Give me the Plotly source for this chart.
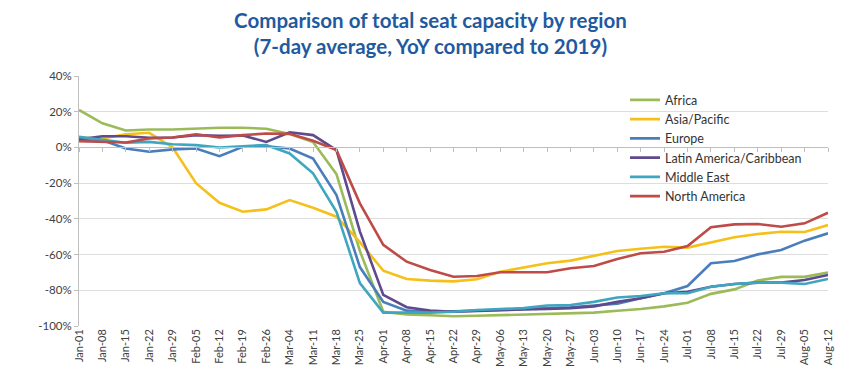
import plotly.graph_objects as go

dates = ["Jan-01", "Jan-08", "Jan-15", "Jan-22", "Jan-29", "Feb-05", "Feb-12", "Feb-19", "Feb-26",
         "Mar-04", "Mar-11", "Mar-18", "Mar-25", "Apr-01", "Apr-08", "Apr-15", "Apr-22", "Apr-29",
         "May-06", "May-13", "May-20", "May-27", "Jun-03", "Jun-10", "Jun-17", "Jun-24",
         "Jul-01", "Jul-08", "Jul-15", "Jul-22", "Jul-29", "Aug-05", "Aug-12"]

africa = [21, 13.5, 9.5, 10, 10, 10.5, 11, 11, 10.5, 7.5, 3, -15, -58, -92, -93.5, -94, -94.5,
          -94.3, -94, -93.8, -93.5, -93, -92.5, -91.5, -90.5, -89, -87, -82, -79.5, -74.5,
          -72.5, -72.5, -70]
asia_pacific = [5.5, 5, 7.4, 8.2, 0, -20, -31, -36, -34.7, -29.5, -33.8, -38.8, -53, -69, -73.7,
                -74.6, -75, -73.8, -69.6, -67.1, -64.9, -63.4, -60.8, -58, -56.7, -55.6, -56.1,
                -53.3, -50.3, -48.5, -47.2, -47.4, -43.5]
europe = [4.5, 4, -0.6, -2.4, -1.1, -0.6, -4.9, 0.4, 0.7, -0.6, -6.2, -26.7, -67, -86.5, -91.4,
          -92, -91.8, -91.5, -91, -90.5, -90, -89.5, -88.5, -87.5, -84.5, -81.7, -77.6, -64.9,
          -63.6, -59.9, -57.4, -52.2, -48.1]
latin_america = [4.6, 6.3, 6.3, 5.4, 5.6, 6.9, 6.5, 6.7, 3.1, 8.5, 6.9, -1.5, -47, -82.6, -89.5,
                 -91.4, -92, -91.5, -91, -90.8, -90.5, -90, -89, -86.5, -84.5, -81.7, -80.8, -78,
                 -76.5, -75.7, -75.7, -74.2, -71.4]
middle_east = [5.9, 4.1, 2.6, 3.1, 1.8, 1.3, 0, 0.7, 1.3, -3.4, -14.5, -36, -76, -92.5, -92.5,
               -92.5, -92, -91, -90.5, -90, -88.5, -88.2, -86.5, -84, -83.2, -81.7, -81.7, -78,
               -76.5, -75.7, -75.7, -76.5, -73.7]
north_america = [3.5, 3, 2.8, 5, 5.6, 7.4, 5.6, 6.9, 7.8, 7.6, 3.7, -1.5, -31.3, -54.6, -64,
                 -68.6, -72.4, -72, -69.9, -69.9, -69.9, -67.7, -66.4, -62.5, -59.3, -58.4,
                 -55.2, -44.7, -43.1, -42.9, -44.4, -42.5, -36.6]

series_names = ["Africa", "Asia/Pacific", "Europe", "Latin America/Caribbean", "Middle East", "North America"]
series_values = [africa, asia_pacific, europe, latin_america, middle_east, north_america]
series_colors = ["#9BBB59", "#F5C01A", "#4A7EBB", "#5E4A8C", "#3FA6BF", "#BE4B48"]

y_ticks = [40, 20, 0, -20, -40, -60, -80, -100]
y_ticktext = [f"{v}%" for v in y_ticks]

idx = list(range(len(dates)))

fig = go.Figure()
for name, vals, col in zip(series_names, series_values, series_colors):
    fig.add_trace(go.Scatter(x=idx, y=vals, name=name, mode="lines",
                             line=dict(color=col, width=2.6)))

# invisible trace for the zero-line axis with tick marks
fig.add_trace(go.Scatter(x=idx, y=[0] * len(idx), xaxis="x2", mode="lines",
                         line=dict(width=0), showlegend=False, hoverinfo="skip"))

fig.update_layout(
    width=850, height=378,
    margin=dict(l=71, r=30, t=68, b=60),
    paper_bgcolor="white", plot_bgcolor="white",
    font=dict(family="Lato", color="#404040", size=11),
    title=dict(text="<b>Comparison of total seat capacity by region<br>(7-day average, YoY compared to 2019)</b>",
               x=0.497, xanchor="center", xref="container",
               y=0.948, yanchor="top", yref="container",
               font=dict(family="Lato", size=20.5, color="#1F5AA0")),
    showlegend=True,
    legend=dict(x=0.729, xanchor="left", y=0.963, yanchor="top",
                bgcolor="rgba(0,0,0,0)", font=dict(family="Lato", size=12.5, color="#333333"),
                tracegroupgap=0, itemwidth=30),
    xaxis=dict(range=[0, 32], tickmode="array", tickvals=idx, ticktext=dates,
               tickangle=-90, showgrid=False, zeroline=False, showline=False,
               ticks="", automargin=False, tickfont=dict(size=11, color="#404040")),
    xaxis2=dict(range=[0, 32], overlaying="x", anchor="free", position=100 / 140,
                side="bottom", tickmode="array", tickvals=idx, showticklabels=False,
                ticks="outside", ticklen=4, tickcolor="#BFBFBF", showline=True,
                linecolor="#BFBFBF", linewidth=1, showgrid=False, zeroline=False,
                automargin=False),
    yaxis=dict(range=[-100, 40], tickmode="array", tickvals=y_ticks, ticktext=y_ticktext,
               showgrid=True, gridcolor="#DDDDDD", gridwidth=1, zeroline=False,
               showline=True, linecolor="#BFBFBF", linewidth=1, automargin=False,
               ticks="outside", ticklen=4, tickcolor="#BFBFBF",
               tickfont=dict(size=11.5, color="#404040")),
)

fig.write_html("out.html")
